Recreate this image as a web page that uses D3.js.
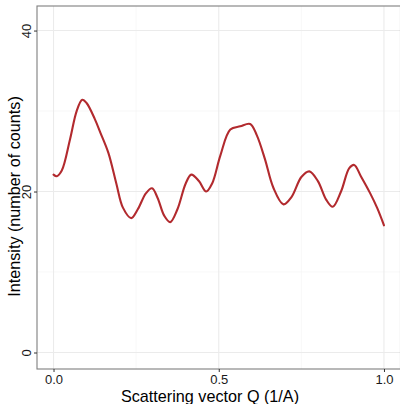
<!DOCTYPE html>
<html>
<head>
<meta charset="utf-8">
<script src="https://cdn.jsdelivr.net/npm/d3@7"></script>
<style>
  html, body { margin: 0; padding: 0; background: #fff; }
  svg { display: block; font-family: "Liberation Sans", Arial, sans-serif; }
</style>
</head>
<body>
<svg id="chart" width="400" height="404"></svg>
<script>
// Scattering vector Q (1/A)
const qValues = [0.000, 0.010, 0.025, 0.050, 0.070, 0.087, 0.100, 0.125, 0.142, 0.166,
                 0.190, 0.210, 0.235, 0.255, 0.280, 0.298, 0.315, 0.335, 0.353, 0.375,
                 0.400, 0.417, 0.440, 0.462, 0.480, 0.505, 0.535, 0.565, 0.595, 0.615,
                 0.640, 0.665, 0.696, 0.720, 0.750, 0.774, 0.800, 0.825, 0.845, 0.870,
                 0.895, 0.910, 0.930, 0.958, 0.980, 1.000];
// Intensity (number of counts)
const intensity = [22.1, 21.9, 22.6, 26.5, 30.0, 31.4, 31.0, 29.0, 27.3, 24.8,
                   21.0, 18.0, 16.7, 17.8, 19.8, 20.4, 19.2, 17.0, 16.2, 17.8,
                   21.0, 22.1, 21.3, 20.0, 21.0, 24.5, 27.7, 28.1, 28.4, 27.0,
                   24.0, 20.5, 18.4, 19.3, 21.8, 22.5, 21.3, 19.0, 18.1, 20.0,
                   22.9, 23.3, 21.9, 19.8, 17.9, 15.8];
const xTicks = [0, 0.5, 1];
const xMinor = [0.25, 0.75];
const yTicks = [0, 20, 40];
const yMinor = [10, 30];

const svg = d3.select("#chart");
const panel = { left: 37, top: 6, right: 400.5, bottom: 369 };

const x = d3.scaleLinear().domain([-0.05, 1.05]).range([panel.left, panel.right]);
const y = d3.scaleLinear().domain([-2.05, 43.05]).range([panel.bottom, panel.top]);

// minor grid
svg.append("g").selectAll("line").data(xMinor).join("line")
  .attr("x1", d => x(d)).attr("x2", d => x(d))
  .attr("y1", panel.top).attr("y2", panel.bottom)
  .attr("stroke", "#f4f4f4").attr("stroke-width", 0.6);
svg.append("g").selectAll("line").data(yMinor).join("line")
  .attr("x1", panel.left).attr("x2", panel.right)
  .attr("y1", d => y(d)).attr("y2", d => y(d))
  .attr("stroke", "#f4f4f4").attr("stroke-width", 0.6);

// major grid
svg.append("g").selectAll("line").data(xTicks).join("line")
  .attr("x1", d => x(d)).attr("x2", d => x(d))
  .attr("y1", panel.top).attr("y2", panel.bottom)
  .attr("stroke", "#ebebeb").attr("stroke-width", 1.1);
svg.append("g").selectAll("line").data(yTicks).join("line")
  .attr("x1", panel.left).attr("x2", panel.right)
  .attr("y1", d => y(d)).attr("y2", d => y(d))
  .attr("stroke", "#ebebeb").attr("stroke-width", 1.1);

// intensity curve
const data = qValues.map((q, i) => ({ q, v: intensity[i] }));
const line = d3.line().x(d => x(d.q)).y(d => y(d.v)).curve(d3.curveCatmullRom.alpha(0.5));
svg.append("path").datum(data).attr("d", line)
  .attr("fill", "none").attr("stroke", "#b22a2e").attr("stroke-width", 2.1)
  .attr("stroke-linejoin", "round").attr("stroke-linecap", "round");

// panel border
svg.append("rect")
  .attr("x", panel.left).attr("y", panel.top)
  .attr("width", panel.right - panel.left).attr("height", panel.bottom - panel.top)
  .attr("fill", "none").attr("stroke", "#7f7f7f").attr("stroke-width", 1.1);

// axes
const xAxis = d3.axisBottom(x).tickValues(xTicks).tickFormat(d3.format(".1f")).tickSize(3).tickPadding(3);
const gx = svg.append("g").attr("transform", `translate(0,${panel.bottom})`).call(xAxis);
gx.select(".domain").remove();
gx.selectAll("line").attr("stroke", "#333").attr("stroke-width", 1);
gx.selectAll("text").attr("fill", "#1a1a1a").attr("font-size", 13).attr("font-family", "Liberation Sans, Arial, sans-serif");

const yAxis = d3.axisLeft(y).tickValues(yTicks).tickFormat(d3.format("d")).tickSize(3).tickPadding(3);
const gy = svg.append("g").attr("transform", `translate(${panel.left},0)`).call(yAxis);
gy.select(".domain").remove();
gy.selectAll("line").attr("stroke", "#333").attr("stroke-width", 1);
gy.selectAll("text")
  .attr("fill", "#1a1a1a").attr("font-size", 13).attr("font-family", "Liberation Sans, Arial, sans-serif")
  .attr("text-anchor", "middle").attr("dy", null).attr("x", null)
  .attr("transform", "translate(-6,0) rotate(-90)");

// axis titles
svg.append("text")
  .attr("x", 210).attr("y", 402)
  .attr("text-anchor", "middle").attr("font-size", 16.2).attr("fill", "#000")
  .text("Scattering vector Q (1/A)");
svg.append("text")
  .attr("transform", "translate(20,196.5) rotate(-90)")
  .attr("text-anchor", "middle").attr("font-size", 16.2).attr("fill", "#000")
  .text("Intensity (number of counts)");
</script>
</body>
</html>
